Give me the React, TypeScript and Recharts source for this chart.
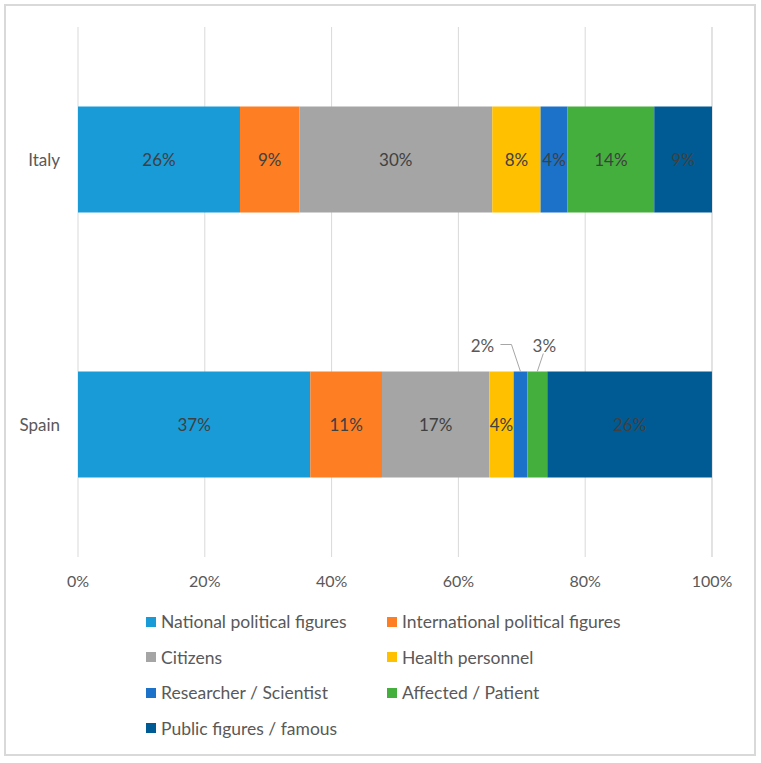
import { BarChart, Bar, XAxis, YAxis, CartesianGrid, LabelList } from 'recharts';

// Countries (rows, top to bottom)
const countries = ['Italy', 'Spain'];

// Share of each group per country, in %
const national = [25.55, 36.64];
const international = [9.35, 11.31];
const citizens = [30.44, 16.92];
const health = [7.62, 3.84];
const researcher = [4.26, 2.16];
const affected = [13.67, 3.15];
const publicFigures = [9.11, 25.97];

const xTicks = [0, 20, 40, 60, 80, 100];

const series = [
  { key: 'national', name: 'National political figures', values: national, color: '#189BD7' },
  { key: 'international', name: 'International political figures', values: international, color: '#FD7E23' },
  { key: 'citizens', name: 'Citizens', values: citizens, color: '#A5A5A5' },
  { key: 'health', name: 'Health personnel', values: health, color: '#FFC000' },
  { key: 'researcher', name: 'Researcher / Scientist', values: researcher, color: '#1C71C9' },
  { key: 'affected', name: 'Affected / Patient', values: affected, color: '#45AF3D' },
  { key: 'public', name: 'Public figures / famous', values: publicFigures, color: '#005B94' },
];

const data = countries.map((country, i) => {
  const row: any = { country };
  series.forEach((s) => {
    row[s.key] = s.values[i];
  });
  return row;
});

const FONT = 'Lato, "Open Sans", sans-serif';

const makeLabel = (key: string) => (props: any) => {
  const { x, y, width, height, value } = props;
  const cx = x + width / 2;
  const text = `${Math.round(value)}%`;
  if (width >= 22) {
    return (
      <text x={cx} y={y + height / 2} textAnchor="middle" dominantBaseline="central" fill="#404040" fontSize={17} fontFamily={FONT}>
        {text}
      </text>
    );
  }
  // small slices: label sits above the bar with a leader line
  if (key === 'researcher') {
    return (
      <g>
        <polyline points={`${cx - 20},${y - 27} ${cx - 9},${y - 27} ${cx},${y}`} stroke="#a6a6a6" strokeWidth={1} fill="none" />
        <text x={cx - 38} y={y - 26} textAnchor="middle" dominantBaseline="central" fill="#595959" fontSize={17} fontFamily={FONT}>
          {text}
        </text>
      </g>
    );
  }
  return (
    <g>
      <line x1={cx + 6} y1={y - 18} x2={cx} y2={y} stroke="#a6a6a6" strokeWidth={1} />
      <text x={cx + 7} y={y - 26} textAnchor="middle" dominantBaseline="central" fill="#595959" fontSize={17} fontFamily={FONT}>
        {text}
      </text>
    </g>
  );
};

const App = () => {
  return (
    <div style={{ position: 'absolute', left: 0, top: 0, width: 761, height: 763, background: '#fff', fontFamily: FONT }}>
      <div style={{ position: 'absolute', left: 4, top: 4, width: 752, height: 752, boxSizing: 'border-box', border: '2px solid #d9d9d9' }} />
      <div style={{ position: 'absolute', left: 0, top: 0 }}>
        <BarChart
          width={761}
          height={763}
          data={data}
          layout="vertical"
          margin={{ top: 27, right: 49, left: 18, bottom: 176 }}
          barCategoryGap="30%"
        >
          <CartesianGrid horizontal={false} stroke="#d9d9d9" />
          <XAxis
            type="number"
            domain={[0, 100]}
            ticks={xTicks}
            tickFormatter={(v) => `${v}%`}
            axisLine={false}
            tickLine={false}
            tickMargin={13}
            height={30}
            tick={{ fill: '#595959', fontSize: 16, fontFamily: FONT }}
            interval={0}
          />
          <YAxis
            type="category"
            dataKey="country"
            width={60}
            axisLine={false}
            tickLine={false}
            tickMargin={12}
            tick={{ fill: '#595959', fontSize: 17, fontFamily: FONT }}
          />
          {series.map((s) => (
            <Bar key={s.key} dataKey={s.key} name={s.name} stackId="a" fill={s.color} isAnimationActive={false}>
              <LabelList dataKey={s.key} content={makeLabel(s.key)} />
            </Bar>
          ))}
        </BarChart>
      </div>
      {/* Legend */}
      <div
        style={{
          position: 'absolute',
          left: 146,
          top: 604,
          width: 560,
          display: 'grid',
          gridTemplateColumns: '241px 300px',
        }}
      >
        {series.map((s) => (
          <div key={s.key} style={{ display: 'flex', alignItems: 'center', height: 35.5, color: '#595959', fontSize: 17.5 }}>
            <span style={{ display: 'inline-block', width: 10, height: 10, background: s.color, marginRight: 5 }} />
            <span>{s.name}</span>
          </div>
        ))}
      </div>
    </div>
  );
};

export default App;
